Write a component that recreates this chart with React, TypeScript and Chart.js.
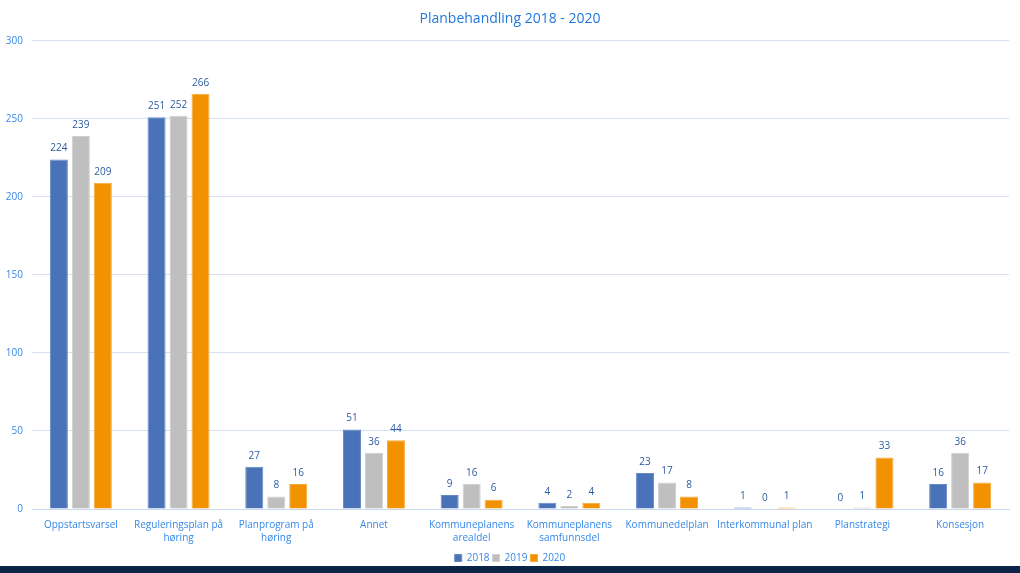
import React, { useEffect, useRef } from "react";
import { Chart, registerables } from "chart.js";

Chart.register(...registerables);

const categories: (string | string[])[] = [
  "Oppstartsvarsel",
  ["Reguleringsplan på", "høring"],
  ["Planprogram på", "høring"],
  "Annet",
  ["Kommuneplanens", "arealdel"],
  ["Kommuneplanens", "samfunnsdel"],
  "Kommunedelplan",
  "Interkommunal plan",
  "Planstrategi",
  "Konsesjon",
];
const values2018 = [224, 251, 27, 51, 9, 4, 23, 1, 0, 16];
const values2019 = [239, 252, 8, 36, 16, 2, 17, 0, 1, 36];
const values2020 = [209, 266, 16, 44, 6, 4, 8, 1, 33, 17];
const seriesNames = ["2018", "2019", "2020"];
const yTicks = [0, 50, 100, 150, 200, 250, 300];

const FONT = "'Open Sans', 'Noto Sans', sans-serif";

const valueLabels = {
  id: "valueLabels",
  afterDatasetsDraw(chart: any) {
    const ctx = chart.ctx;
    ctx.save();
    ctx.font = `10px ${FONT}`;
    ctx.fillStyle = "#2c5aa0";
    ctx.textAlign = "center";
    ctx.textBaseline = "middle";
    chart.data.datasets.forEach((ds: any, i: number) => {
      const meta = chart.getDatasetMeta(i);
      meta.data.forEach((bar: any, j: number) => {
        ctx.fillText(String(ds.data[j]), bar.x, bar.y - 11);
      });
    });
    ctx.restore();
  },
};

export default function App() {
  const ref = useRef<HTMLCanvasElement>(null);
  useEffect(() => {
    document.body.style.margin = "0";
    const chart = new Chart(ref.current!, {
      type: "bar",
      data: {
        labels: categories,
        datasets: [
          { label: seriesNames[0], data: values2018, backgroundColor: "#4a72b8", borderColor: "#6688c6", borderWidth: 1 },
          { label: seriesNames[1], data: values2019, backgroundColor: "#bfbfbf", borderColor: "#cfcfcf", borderWidth: 1 },
          { label: seriesNames[2], data: values2020, backgroundColor: "#f39200", borderColor: "#f6a83a", borderWidth: 1 },
        ],
      },
      options: {
        animation: false,
        responsive: false,
        maintainAspectRatio: false,
        layout: { padding: { left: 0, right: 0, top: 0, bottom: -7 } },
        datasets: { bar: { categoryPercentage: 0.675, barPercentage: 0.82 } },
        plugins: {
          title: {
            display: true,
            text: "Planbehandling 2018 - 2020",
            color: "#1f77e0",
            font: { family: FONT, size: 14, weight: "normal" },
            padding: { top: 11, bottom: 13 },
          },
          legend: {
            position: "bottom",
            labels: {
              color: "#3588ea",
              font: { family: FONT, size: 10 },
              boxWidth: 7,
              boxHeight: 7,
              padding: 3,
            },
          },
          tooltip: { enabled: false },
        },
        scales: {
          x: {
            grid: { display: false, drawTicks: false },
            border: { color: "#c9d7ee" },
            ticks: {
              color: "#3588ea",
              font: { family: FONT, size: 10, lineHeight: 1.3 },
              maxRotation: 0,
              autoSkip: false,
              padding: 10,
            },
            afterFit: (s: any) => { s.height = 41; },
          },
          y: {
            min: 0,
            max: 300,
            grid: { color: "#d6e0f2", drawTicks: false },
            border: { display: false },
            afterBuildTicks: (s: any) => { s.ticks = yTicks.map((v) => ({ value: v })); },
            ticks: {
              color: "#3588ea",
              font: { family: FONT, size: 10 },
              padding: 9,
            },
            afterFit: (s: any) => { s.width = 32; },
          },
          yRight: {
            type: "linear",
            position: "right",
            display: true,
            min: 0,
            max: 300,
            grid: { drawOnChartArea: false, drawTicks: false, display: false },
            border: { display: false },
            ticks: { display: false },
            afterFit: (s: any) => { s.width = 11; },
          },
        },
      },
      plugins: [valueLabels],
    });
    return () => chart.destroy();
  }, []);
  return (
    <div style={{ position: "relative", width: 1020, height: 573, background: "#fff" }}>
      <canvas ref={ref} width={1020} height={566} style={{ display: "block" }} />
      <div style={{ height: 7, background: "#0b2549" }} />
    </div>
  );
}
